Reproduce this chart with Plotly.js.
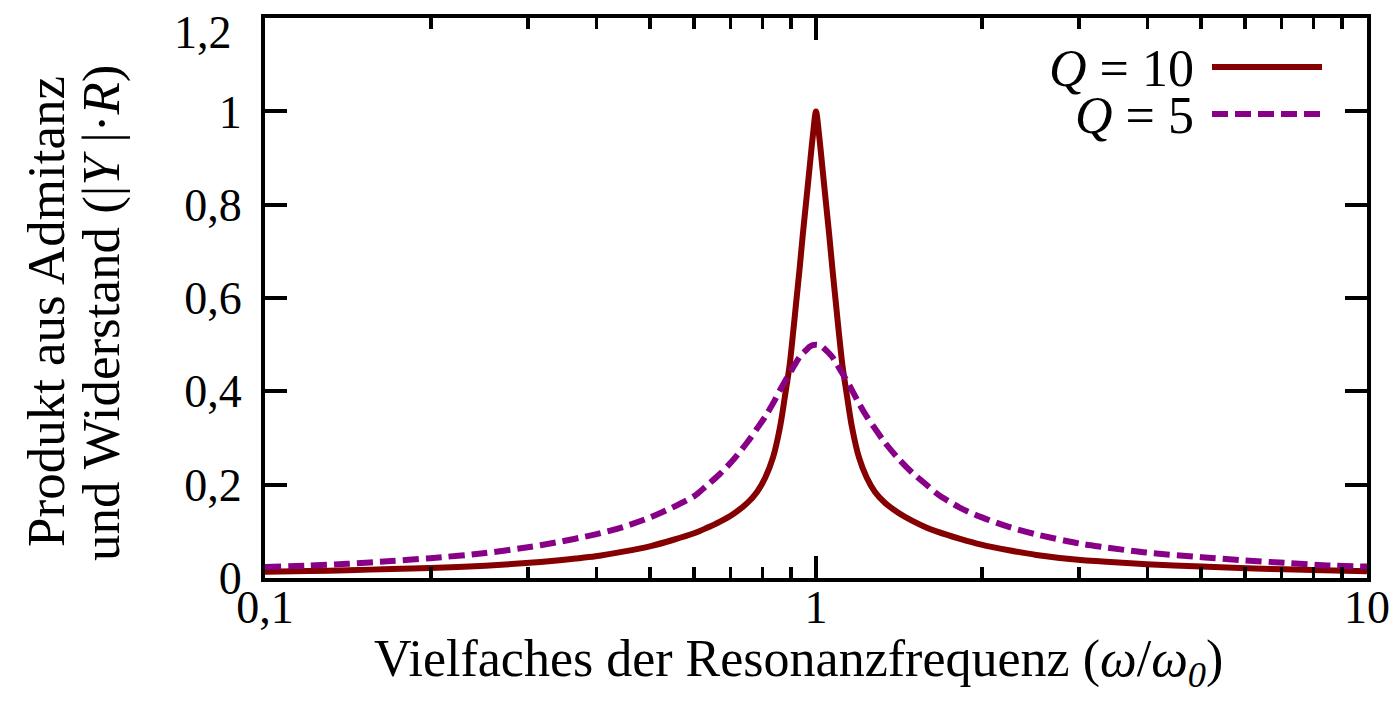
<!DOCTYPE html>
<html>
<head>
<meta charset="utf-8">
<script src="https://cdn.plot.ly/plotly-3.0.1.min.js"></script>
<style>
  html, body { margin: 0; padding: 0; background: #ffffff; }
  #chart { width: 1392px; height: 703px; }
</style>
</head>
<body>
<div id="chart"></div>
<script>
// Frequency as a multiple of the resonance frequency (omega / omega_0)
const freqRatio = [
  0.1, 0.1202, 0.1413, 0.1698, 0.1995, 0.2512, 0.302, 0.3311, 0.3981, 0.4467,
  0.5012, 0.5495, 0.6026, 0.631, 0.6683, 0.7079, 0.7499, 0.7816, 0.8091, 0.8356,
  0.861, 0.879, 0.8954, 0.9078, 0.9204, 0.9333, 0.9462, 0.9594, 0.9727, 0.9863,
  1.0,
  1.0139, 1.028, 1.0423, 1.0568, 1.0715, 1.0864, 1.1015, 1.1169, 1.1376, 1.1614,
  1.1967, 1.2359, 1.2794, 1.3335, 1.4125, 1.4962, 1.5849, 1.6596, 1.8197, 1.9953,
  2.2387, 2.5119, 3.02, 3.3113, 3.9811, 5.0119, 5.8884, 7.0795, 8.3176, 10.0
];

// |Y|·R for quality factor Q = 10
const admQ10 = [
  0.013, 0.0145, 0.016, 0.019, 0.021, 0.026, 0.032, 0.036, 0.046, 0.056,
  0.068, 0.081, 0.096, 0.106, 0.12, 0.137, 0.16, 0.184, 0.215, 0.258,
  0.325, 0.392, 0.455, 0.52, 0.59, 0.66, 0.735, 0.805, 0.875, 0.945,
  1.0,
  0.945, 0.875, 0.805, 0.735, 0.66, 0.59, 0.52, 0.455, 0.392, 0.325,
  0.258, 0.215, 0.184, 0.161, 0.139, 0.122, 0.108, 0.099, 0.084, 0.071,
  0.059, 0.049, 0.038, 0.035, 0.029, 0.024, 0.021, 0.018, 0.016, 0.014
];

// |Y|·R for quality factor Q = 5
const admQ5 = [
  0.023, 0.026, 0.03, 0.036, 0.042, 0.053, 0.066, 0.074, 0.093, 0.109,
  0.13, 0.151, 0.176, 0.196, 0.222, 0.253, 0.29, 0.32, 0.346, 0.374,
  0.403, 0.422, 0.438, 0.45, 0.462, 0.473, 0.481, 0.488, 0.495, 0.499,
  0.5,
  0.499, 0.495, 0.488, 0.481, 0.473, 0.462, 0.45, 0.438, 0.422, 0.403,
  0.374, 0.346, 0.32, 0.29, 0.255, 0.225, 0.2, 0.18, 0.151, 0.13,
  0.109, 0.093, 0.073, 0.066, 0.054, 0.044, 0.038, 0.032, 0.027, 0.024
];

const seriesNames = ['<i>Q</i> = 10', '<i>Q</i> = 5'];

const yTickVals = [0, 0.2, 0.4, 0.6, 0.8, 1, 1.2];
const yTickText = ['0', '0,2', '0,4', '0,6', '0,8', '1', '1,2'];
const xTickVals = [0.1, 1, 10];
const xTickText = ['0,1', '1', '10'];
const xMinorTickVals = [0.2, 0.3, 0.4, 0.5, 0.6, 0.7, 0.8, 0.9, 2, 3, 4, 5, 6, 7, 8, 9];

const W = 1392, H = 703;
const M = { l: 265, r: 25, t: 18, b: 125 };
const plotW = W - M.l - M.r, plotH = H - M.t - M.b;
// pixel position on the page -> paper coordinates
const px = v => (v - M.l) / plotW;
const py = v => (H - M.b - v) / plotH;

const serif = 'Liberation Serif, Times New Roman, serif';
const red = '#850000';
const purple = '#870087';

// the topmost y label sits a little below its tick so it stays on the page
const lastY = yTickVals.length - 1;
const yTickTextOnAxis = yTickText.map((t, i) => (i === lastY ? '' : t));

const traces = [
  {
    x: freqRatio, y: admQ10, name: seriesNames[0], type: 'scatter', mode: 'lines',
    line: { color: red, width: 6, shape: 'spline', smoothing: 0.8 },
    showlegend: false, hoverinfo: 'skip'
  },
  {
    x: freqRatio, y: admQ5, name: seriesNames[1], type: 'scatter', mode: 'lines',
    line: { color: purple, width: 6, dash: '16px,7px', shape: 'spline', smoothing: 0.8 },
    showlegend: false, hoverinfo: 'skip'
  }
];

const axisCommon = {
  showline: true, linecolor: '#000', linewidth: 4, mirror: 'ticks',
  ticks: 'inside', ticklen: 22, tickwidth: 4, tickcolor: '#000',
  showgrid: false, zeroline: false, fixedrange: true,
  ticklabeloverflow: 'allow',
  tickfont: { family: serif, size: 46, color: '#000' }
};

const layout = {
  width: W, height: H,
  margin: M,
  paper_bgcolor: '#fff', plot_bgcolor: '#fff',
  showlegend: false,
  xaxis: Object.assign({}, axisCommon, {
    type: 'log', range: [-1, 1],
    tickmode: 'array', tickvals: xTickVals, ticktext: xTickText,
    ticklabelstandoff: -14,
    minor: { tickvals: xMinorTickVals, ticks: 'inside', ticklen: 11, tickwidth: 3.5, tickcolor: '#000', showgrid: false }
  }),
  yaxis: Object.assign({}, axisCommon, {
    range: [-0.0005, 1.2005],
    tickmode: 'array', tickvals: yTickVals, ticktext: yTickTextOnAxis,
    ticklabelstandoff: 10
  }),
  annotations: [
    {
      xref: 'paper', yref: 'paper', x: px(234), y: py(32),
      xanchor: 'right', yanchor: 'middle', showarrow: false,
      text: yTickText[lastY],
      font: { family: serif, size: 46, color: '#000' }
    },
    {
      xref: 'paper', yref: 'paper', x: px(798), y: py(662),
      xanchor: 'center', yanchor: 'middle', showarrow: false,
      text: 'Vielfaches der Resonanzfrequenz (<i>ω</i>/<i>ω<sub>0</sub></i>)',
      font: { family: serif, size: 52, color: '#000' }
    },
    {
      xref: 'paper', yref: 'paper', x: px(46), y: py(312),
      xanchor: 'center', yanchor: 'middle', showarrow: false, textangle: -90,
      text: 'Produkt aus Admitanz',
      font: { family: serif, size: 53, color: '#000' }
    },
    {
      xref: 'paper', yref: 'paper', x: px(101), y: py(313),
      xanchor: 'center', yanchor: 'middle', showarrow: false, textangle: -90,
      text: 'und Widerstand (|<i>Y</i> |·<i>R</i>)',
      font: { family: serif, size: 53, color: '#000' }
    },
    {
      xref: 'paper', yref: 'paper', x: px(1196), y: py(68),
      xanchor: 'right', yanchor: 'middle', showarrow: false,
      text: seriesNames[0],
      font: { family: serif, size: 52, color: '#000' }
    },
    {
      xref: 'paper', yref: 'paper', x: px(1196), y: py(115),
      xanchor: 'right', yanchor: 'middle', showarrow: false,
      text: seriesNames[1],
      font: { family: serif, size: 52, color: '#000' }
    }
  ],
  shapes: [
    {
      type: 'line', xref: 'paper', yref: 'paper',
      x0: px(1212), x1: px(1322), y0: py(67), y1: py(67),
      line: { color: red, width: 6 }
    },
    {
      type: 'line', xref: 'paper', yref: 'paper',
      x0: px(1212), x1: px(1322), y0: py(114), y1: py(114),
      line: { color: purple, width: 6, dash: '16px,7px' }
    }
  ]
};

Plotly.newPlot('chart', traces, layout, { displayModeBar: false, staticPlot: true });
</script>
</body>
</html>
